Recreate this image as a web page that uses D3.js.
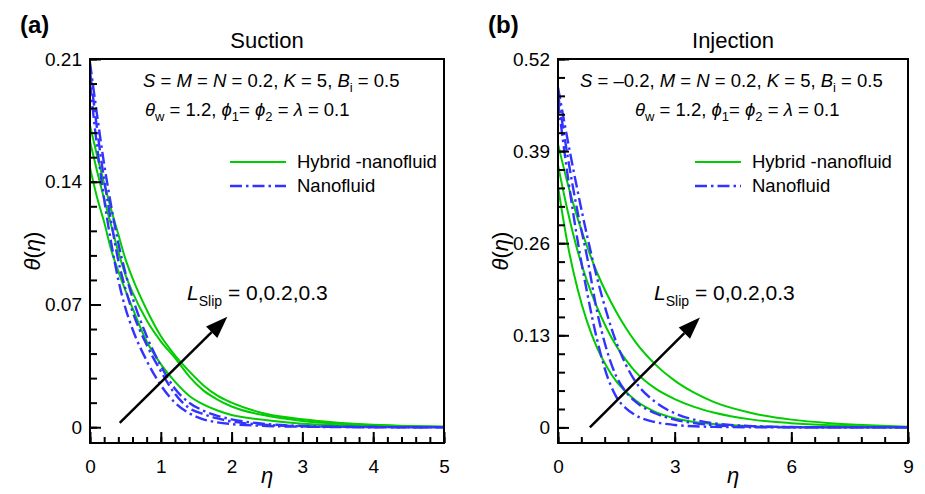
<!DOCTYPE html>
<html>
<head>
<meta charset="utf-8">
<script src="https://cdn.jsdelivr.net/npm/d3@7/dist/d3.min.js"></script>
<style>
  html, body { margin: 0; padding: 0; background: #fff; }
  svg { display: block; font-family: "Liberation Sans", Arial, Helvetica, sans-serif; }
</style>
</head>
<body>
<svg id="chart" width="925" height="494"></svg>
<script>
// ---------------- DATA ----------------
// (a) Suction
const etaSuction = [0, 0.1, 0.2, 0.3, 0.4, 0.5, 0.6, 0.8, 1.0, 1.2, 1.4, 1.6, 1.8, 2.0, 2.5, 3.0, 3.5, 4.0, 4.5, 5.0];
const suctionHybridL0  = [0.148, 0.131, 0.117, 0.101, 0.089, 0.078, 0.068, 0.049, 0.036, 0.026, 0.018, 0.013, 0.0095, 0.007, 0.004, 0.002, 0.0011, 0.0006, 0.0003, 0.0001];
const suctionHybridL02 = [0.163, 0.146, 0.130, 0.115, 0.100, 0.087, 0.077, 0.061, 0.049, 0.0395, 0.029, 0.021, 0.0158, 0.0118, 0.0065, 0.0036, 0.002, 0.0011, 0.0005, 0.0002];
const suctionHybridL03 = [0.172, 0.155, 0.139, 0.124, 0.110, 0.096, 0.085, 0.067, 0.052, 0.041, 0.032, 0.024, 0.018, 0.014, 0.0075, 0.0045, 0.0026, 0.0014, 0.0007, 0.0003];
const suctionNanoL0    = [0.196, 0.160, 0.130, 0.105, 0.084, 0.068, 0.056, 0.038, 0.024, 0.014, 0.008, 0.0045, 0.0028, 0.0018, 0.0007, 0.0003, 0.0001, 0, 0, 0];
const suctionNanoL02   = [0.203, 0.170, 0.141, 0.117, 0.095, 0.079, 0.066, 0.047, 0.032, 0.019, 0.011, 0.0075, 0.005, 0.0033, 0.0013, 0.0005, 0.0002, 0.0001, 0, 0];
const suctionNanoL03   = [0.208, 0.178, 0.150, 0.126, 0.105, 0.088, 0.074, 0.052, 0.035, 0.022, 0.014, 0.0095, 0.0065, 0.0045, 0.0018, 0.0007, 0.0003, 0.0001, 0, 0];

// (b) Injection
const etaInjection = [0, 0.25, 0.5, 0.75, 1, 1.25, 1.5, 1.75, 2, 2.5, 3, 3.5, 4, 5, 6, 7, 8, 9];
const injectionHybridL0  = [0.34, 0.258, 0.196, 0.149, 0.113, 0.086, 0.065, 0.050, 0.038, 0.022, 0.013, 0.0078, 0.0047, 0.0018, 0.0007, 0.0003, 0.0001, 0];
const injectionHybridL02 = [0.37, 0.305, 0.250, 0.206, 0.170, 0.140, 0.115, 0.095, 0.078, 0.055, 0.040, 0.029, 0.021, 0.011, 0.006, 0.003, 0.0012, 0.0002];
const injectionHybridL03 = [0.40, 0.344, 0.296, 0.255, 0.219, 0.189, 0.163, 0.140, 0.120, 0.089, 0.066, 0.049, 0.036, 0.020, 0.011, 0.006, 0.003, 0.001];
const injectionNanoL0    = [0.46, 0.355, 0.265, 0.190, 0.125, 0.075, 0.043, 0.027, 0.017, 0.0075, 0.0035, 0.0016, 0.0008, 0.0002, 0, 0, 0, 0];
const injectionNanoL02   = [0.47, 0.382, 0.305, 0.240, 0.165, 0.110, 0.072, 0.050, 0.036, 0.020, 0.011, 0.006, 0.0032, 0.001, 0.0003, 0.0001, 0, 0];
const injectionNanoL03   = [0.48, 0.405, 0.335, 0.270, 0.212, 0.162, 0.120, 0.088, 0.064, 0.036, 0.020, 0.011, 0.006, 0.0018, 0.0005, 0.0001, 0, 0];

// Tick labels
const suctionXTicks = [0, 1, 2, 3, 4, 5];
const suctionYTicks = [0, 0.07, 0.14, 0.21];
const injectionXTicks = [0, 3, 6, 9];
const injectionYTicks = [0, 0.13, 0.26, 0.39, 0.52];

const legendLabels = ["Hybrid -nanofluid", "Nanofluid"];
const panelTitles = ["Suction", "Injection"];
const panelTags = ["(a)", "(b)"];

// ---------------- DRAW ----------------
const svg = d3.select("#chart");
const GREEN = "#00cc00";
const BLUE = "#3333ff";
const DASHDOT = "12,4,2.5,4";
const FONT = "Liberation Sans, Arial, sans-serif";

function drawPanel(p) {
  const x = d3.scaleLinear().domain(p.xDomain).range([p.left, p.right]);
  const y = d3.scaleLinear().domain(p.yDomain).range([p.bottom, p.top]);
  const g = svg.append("g");

  const clipId = "clip" + p.id;
  svg.append("clipPath").attr("id", clipId).append("rect")
    .attr("x", p.left).attr("y", p.top).attr("width", p.right - p.left).attr("height", p.bottom - p.top);

  const line = d3.line().x(d => x(d[0])).y(d => y(d[1])).curve(d3.curveMonotoneX);
  const curves = g.append("g").attr("clip-path", `url(#${clipId})`);
  p.hybrid.forEach(s => {
    curves.append("path").datum(p.eta.map((e, i) => [e, s[i]]))
      .attr("d", line).attr("fill", "none").attr("stroke", GREEN).attr("stroke-width", 2);
  });
  p.nano.forEach(s => {
    curves.append("path").datum(p.eta.map((e, i) => [e, s[i]]))
      .attr("d", line).attr("fill", "none").attr("stroke", BLUE).attr("stroke-width", 2.4)
      .attr("stroke-dasharray", DASHDOT);
  });

  // frame
  g.append("rect").attr("x", p.left).attr("y", p.top)
    .attr("width", p.right - p.left).attr("height", p.bottom - p.top)
    .attr("fill", "none").attr("stroke", "#000").attr("stroke-width", 2);

  // x axis (ticks inward)
  const xMinor = d3.range(p.xDomain[0], p.xDomain[1] + 1e-9, p.xMinorStep);
  const xAxisMinor = d3.axisBottom(x).tickValues(xMinor).tickSize(-6).tickFormat("");
  const xAxisMajor = d3.axisBottom(x).tickValues(p.xTicks).tickSize(-11).tickPadding(17).tickFormat(d3.format("d"));
  g.append("g").attr("transform", `translate(0,${p.bottom})`).call(xAxisMinor)
    .call(a => a.select(".domain").remove())
    .call(a => a.selectAll("line").attr("stroke-width", 2));
  g.append("g").attr("transform", `translate(0,${p.bottom})`).call(xAxisMajor)
    .call(a => a.select(".domain").remove())
    .call(a => a.selectAll("line").attr("stroke-width", 2))
    .call(a => a.selectAll("text").attr("font-size", 19).attr("font-family", FONT).attr("fill", "#000"));

  // y axis
  const yMinor = d3.range(0, p.yDomain[1] + 1e-9, p.yMinorStep);
  const yAxisMinor = d3.axisLeft(y).tickValues(yMinor).tickSize(-7).tickFormat("");
  const yAxisMajor = d3.axisLeft(y).tickValues(p.yTicks).tickSize(-11).tickPadding(8)
    .tickFormat(d => d === 0 ? "0" : d3.format(".2f")(d));
  g.append("g").attr("transform", `translate(${p.left},0)`).call(yAxisMinor)
    .call(a => a.select(".domain").remove())
    .call(a => a.selectAll("line").attr("stroke-width", 2));
  g.append("g").attr("transform", `translate(${p.left},0)`).call(yAxisMajor)
    .call(a => a.select(".domain").remove())
    .call(a => a.selectAll("line").attr("stroke-width", 2))
    .call(a => a.selectAll("text").attr("font-size", 19).attr("font-family", FONT).attr("fill", "#000"));

  // axis titles
  const cx = (p.left + p.right) / 2, cy = (p.top + p.bottom) / 2;
  g.append("text").attr("x", cx).attr("y", 483).attr("text-anchor", "middle")
    .attr("font-size", 22).attr("font-style", "italic").text("η");
  const yl = g.append("text").attr("transform", `translate(${p.left - 50},${cy}) rotate(-90)`)
    .attr("text-anchor", "middle").attr("font-size", 22);
  yl.append("tspan").attr("font-style", "italic").text("θ");
  yl.append("tspan").text("(");
  yl.append("tspan").attr("font-style", "italic").text("η");
  yl.append("tspan").text(")");

  // title + tag
  g.append("text").attr("x", cx).attr("y", 48).attr("text-anchor", "middle").attr("font-size", 22).text(p.title);
  g.append("text").attr("x", p.left - 70).attr("y", 33).attr("font-size", 24).attr("font-weight", "bold").text(p.tag);

  // parameter annotations
  function addRich(xx, yy, parts) {
    const t = g.append("text").attr("x", xx).attr("y", yy).attr("font-size", 18.5);
    parts.forEach(pt => {
      const ts = t.append("tspan").text(pt.t);
      if (pt.i) ts.attr("font-style", "italic");
      if (pt.sub) ts.attr("font-size", 13).attr("dy", 5);
      if (pt.up) ts.attr("dy", -5);
    });
    return t;
  }
  addRich(p.ann1x, 87, p.ann1);
  addRich(p.ann2x, 116, p.ann2);

  // legend
  const lx0 = p.legX0, lx1 = p.legX1;
  g.append("line").attr("x1", lx0).attr("x2", lx1).attr("y1", 162).attr("y2", 162)
    .attr("stroke", GREEN).attr("stroke-width", 2);
  g.append("line").attr("x1", lx0).attr("x2", lx1).attr("y1", 186).attr("y2", 186)
    .attr("stroke", BLUE).attr("stroke-width", 2.4).attr("stroke-dasharray", DASHDOT);
  g.append("text").attr("x", lx1 + 11).attr("y", 168).attr("font-size", 18.5).text(legendLabels[0]);
  g.append("text").attr("x", lx1 + 11).attr("y", 192).attr("font-size", 18.5).text(legendLabels[1]);

  // arrow (in data coords)
  const ax0 = x(p.arrow[0][0]), ay0 = y(p.arrow[0][1]);
  const ax1 = x(p.arrow[1][0]), ay1 = y(p.arrow[1][1]);
  const ang = Math.atan2(ay1 - ay0, ax1 - ax0);
  const hl = 22, hw = 8;
  const bx = ax1 - hl * Math.cos(ang), by = ay1 - hl * Math.sin(ang);
  g.append("line").attr("x1", ax0).attr("y1", ay0).attr("x2", bx).attr("y2", by)
    .attr("stroke", "#000").attr("stroke-width", 2.5);
  g.append("path").attr("d", `M${ax1},${ay1} L${bx - hw * Math.sin(ang)},${by + hw * Math.cos(ang)} L${bx + hw * Math.sin(ang)},${by - hw * Math.cos(ang)} Z`)
    .attr("fill", "#000");

  // L_slip label
  const lt = g.append("text").attr("x", p.slipX).attr("y", 300).attr("font-size", 21);
  lt.append("tspan").attr("font-style", "italic").text("L");
  lt.append("tspan").attr("font-size", 14).attr("dy", 6).text("Slip");
  lt.append("tspan").attr("dy", -6).text(" = 0,0.2,0.3");
}

drawPanel({
  id: "a", left: 90, right: 444, top: 59, bottom: 443,
  xDomain: [0, 5], yDomain: [-0.009, 0.21], xMinorStep: 0.2, yMinorStep: 0.014,
  xTicks: suctionXTicks, yTicks: suctionYTicks,
  eta: etaSuction,
  hybrid: [suctionHybridL0, suctionHybridL02, suctionHybridL03],
  nano: [suctionNanoL0, suctionNanoL02, suctionNanoL03],
  title: panelTitles[0], tag: panelTags[0],
  ann1x: 143, ann2x: 145,
  ann1: [{t: "S", i: 1}, {t: " = "}, {t: "M", i: 1}, {t: " = "}, {t: "N", i: 1}, {t: " = 0.2, "}, {t: "K", i: 1}, {t: " = 5, "}, {t: "B", i: 1}, {t: "i", sub: 1}, {t: " = 0.5", up: 1}],
  ann2: [{t: "θ", i: 1}, {t: "w", sub: 1}, {t: " = 1.2, ", up: 1}, {t: "ϕ", i: 1}, {t: "1", sub: 1}, {t: "= ", up: 1}, {t: "ϕ", i: 1}, {t: "2", sub: 1}, {t: " = ", up: 1}, {t: "λ", i: 1}, {t: " = 0.1"}],
  legX0: 230, legX1: 286,
  arrow: [[0.42, 0.0025], [1.94, 0.063]],
  slipX: 187
});

drawPanel({
  id: "b", left: 558, right: 908, top: 59, bottom: 443,
  xDomain: [0, 9], yDomain: [-0.022, 0.52], xMinorStep: 0.6, yMinorStep: 0.026,
  xTicks: injectionXTicks, yTicks: injectionYTicks,
  eta: etaInjection,
  hybrid: [injectionHybridL0, injectionHybridL02, injectionHybridL03],
  nano: [injectionNanoL0, injectionNanoL02, injectionNanoL03],
  title: panelTitles[1], tag: panelTags[1],
  ann1x: 580, ann2x: 635,
  ann1: [{t: "S", i: 1}, {t: " = –0.2, "}, {t: "M", i: 1}, {t: " = "}, {t: "N", i: 1}, {t: " = 0.2, "}, {t: "K", i: 1}, {t: " = 5, "}, {t: "B", i: 1}, {t: "i", sub: 1}, {t: " = 0.5", up: 1}],
  ann2: [{t: "θ", i: 1}, {t: "w", sub: 1}, {t: " = 1.2, ", up: 1}, {t: "ϕ", i: 1}, {t: "1", sub: 1}, {t: "= ", up: 1}, {t: "ϕ", i: 1}, {t: "2", sub: 1}, {t: " = ", up: 1}, {t: "λ", i: 1}, {t: " = 0.1"}],
  legX0: 695, legX1: 741,
  arrow: [[0.82, 0.0], [3.65, 0.155]],
  slipX: 654
});
</script>
</body>
</html>
